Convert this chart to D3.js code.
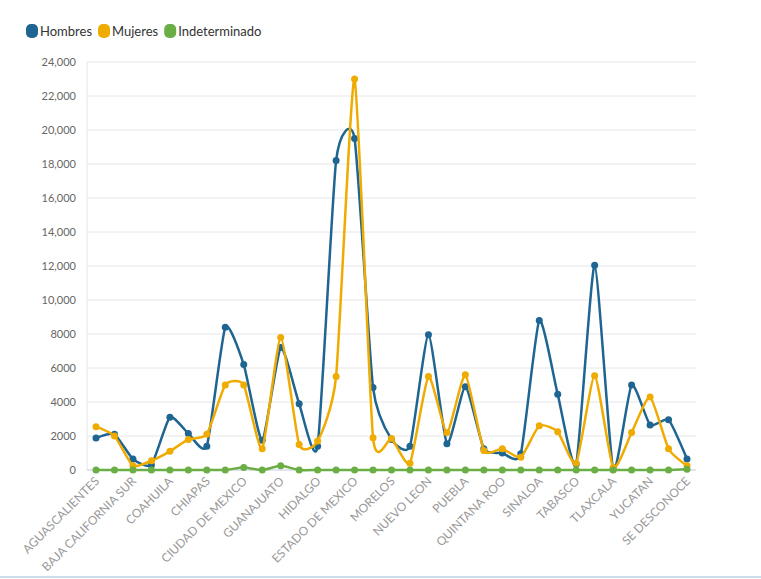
<!DOCTYPE html>
<html><head><meta charset="utf-8">
<script src="https://cdn.jsdelivr.net/npm/d3@7"></script>
<style>body{margin:0;background:#fff;font-family:Lato,"Open Sans",sans-serif}</style>
</head><body><svg id="c" width="761" height="579"></svg>
<script>
const categories=["AGUASCALIENTES","BAJA CALIFORNIA","BAJA CALIFORNIA SUR","CAMPECHE","COAHUILA","COLIMA","CHIAPAS","CHIHUAHUA","CIUDAD DE MEXICO","DURANGO","GUANAJUATO","GUERRERO","HIDALGO","JALISCO","ESTADO DE MEXICO","MICHOACAN","MORELOS","NAYARIT","NUEVO LEON","OAXACA","PUEBLA","QUERETARO","QUINTANA ROO","SAN LUIS POTOSI","SINALOA","SONORA","TABASCO","TAMAULIPAS","TLAXCALA","VERACRUZ","YUCATAN","ZACATECAS","SE DESCONOCE"];
const hombres=[1880,2100,650,300,3100,2150,1400,8400,6200,1750,7200,3900,1400,18200,19500,4850,1800,1400,7950,1550,4900,1250,1000,950,8800,4450,350,12050,50,5000,2650,2950,650];
const mujeres=[2550,2000,250,550,1100,1800,2100,5000,5000,1250,7800,1500,1700,5500,23000,1900,1850,400,5500,2200,5600,1150,1250,750,2600,2250,400,5550,150,2200,4300,1250,250];
const indeterminado=[0,0,0,0,0,0,0,0,150,0,250,0,0,0,0,0,0,0,0,0,0,0,0,0,0,0,0,0,0,0,0,0,50];
const yTicks=[0,2000,4000,6000,8000,10000,12000,14000,16000,18000,20000,22000,24000];
const series=[{name:"Hombres",values:hombres,color:"#1f6592"},{name:"Mujeres",values:mujeres,color:"#f0ab00"},{name:"Indeterminado",values:indeterminado,color:"#6aae45"}];
const svg=d3.select("#c");
const x=d3.scalePoint().domain(categories).range([96,687]);
const y=d3.scaleLinear().domain([0,24000]).range([470,62]);
const fmt=v=>v>=10000?d3.format(",")(v):String(v);
svg.append("g").selectAll("line").data(yTicks).join("line")
 .attr("x1",87).attr("x2",696).attr("y1",d=>y(d)).attr("y2",d=>y(d))
 .attr("stroke","#e6e6e6");
svg.append("g").selectAll("text").data(yTicks).join("text")
 .attr("x",76).attr("y",d=>y(d)+4).attr("text-anchor","end")
 .attr("font-size",11).attr("fill","#666").text(fmt);
svg.append("line").attr("x1",87).attr("x2",87).attr("y1",62).attr("y2",470).attr("stroke","#e6e6e6");
svg.append("line").attr("x1",87).attr("x2",696).attr("y1",470).attr("y2",470).attr("stroke","#ccd6eb");
svg.append("g").selectAll("text").data(categories.filter((d,i)=>i%2==0)).join("text")
 .attr("transform",d=>`translate(${x(d)+4},${482}) rotate(-45)`)
 .attr("text-anchor","end").attr("font-size",12).attr("fill","#999").text(d=>d);
const line=d3.line().x((d,i)=>x(categories[i])).y(d=>y(d)).curve(d3.curveCardinal.tension(0.45));
series.forEach(s=>{
 svg.append("path").attr("d",line(s.values)).attr("fill","none").attr("stroke",s.color).attr("stroke-width",2.5);
 svg.append("g").selectAll("circle").data(s.values).join("circle")
  .attr("cx",(d,i)=>x(categories[i])).attr("cy",d=>y(d)).attr("r",3.5).attr("fill",s.color);
});
let lx=26;
series.forEach(s=>{
 svg.append("rect").attr("x",lx).attr("y",24).attr("width",12).attr("height",14).attr("rx",5).attr("fill",s.color);
 const t=svg.append("text").attr("x",lx+14).attr("y",36).attr("font-size",13).attr("fill","#333").text(s.name);
 lx+=14+t.node().getComputedTextLength()+6;
});
svg.append("line").attr("x1",0).attr("x2",761).attr("y1",577).attr("y2",577).attr("stroke","#cde").attr("stroke-width",2);
</script></body></html>
